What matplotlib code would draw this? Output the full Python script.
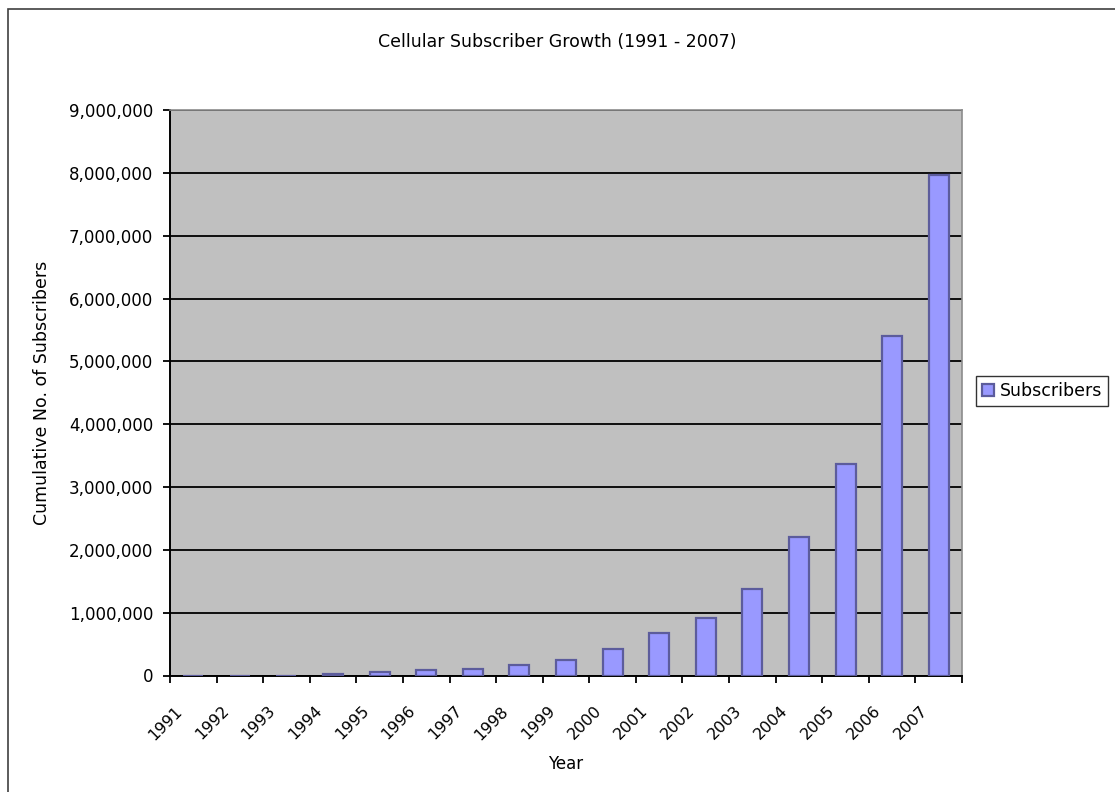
import numpy as np
import matplotlib
matplotlib.use("Agg")
import matplotlib.pyplot as plt
from matplotlib.patches import Rectangle
from matplotlib.ticker import FuncFormatter, FixedLocator

# data
years = ["1991", "1992", "1993", "1994", "1995", "1996", "1997", "1998", "1999",
         "2000", "2001", "2002", "2003", "2004", "2005", "2006", "2007"]
subscribers = [0, 0, 0, 20000, 50000, 80000, 105000, 175000, 250000,
               425000, 673000, 912000, 1380000, 2200000, 3360000, 5410000, 7960000]
y_ticks = [0, 1000000, 2000000, 3000000, 4000000, 5000000, 6000000, 7000000, 8000000, 9000000]

plt.rcParams['font.family'] = ['DejaVu Sans']

fig = plt.figure(figsize=(11.15, 7.92), dpi=100)
ax = fig.add_axes([170 / 1115, 1 - 675.5 / 792, 792 / 1115, 565.5 / 792])
ax.set_facecolor("#c0c0c0")

# outer chart border
fig.patches.append(Rectangle((8 / 1115, -0.01), 1.05, 1 - 9 / 792 + 0.01,
                             transform=fig.transFigure, fill=False,
                             edgecolor="#404040", linewidth=1.2))

x = np.arange(len(years))
ax.bar(x, subscribers, width=0.43, color="#9999ff", edgecolor="#5c5c9c",
       linewidth=1.6, zorder=3, label="Subscribers")

ax.set_xlim(-0.5, len(years) - 0.5)
ax.set_ylim(0, 9000000)
ax.set_yticks(y_ticks)
ax.yaxis.set_major_formatter(FuncFormatter(lambda v, p: f"{int(v):,}"))
ax.grid(axis="y", color="black", linewidth=1.3, zorder=1)
ax.set_axisbelow(True)

# category boundary ticks, labels placed between them
ax.xaxis.set_major_locator(FixedLocator(np.arange(len(years) + 1) - 0.5))
ax.xaxis.set_major_formatter(FuncFormatter(lambda v, p: ""))
ax.xaxis.set_minor_locator(FixedLocator(x - 0.4))
ax.set_xticklabels(years, minor=True, rotation=45, ha="right",
                   rotation_mode="anchor", fontsize=11.5)
ax.tick_params(axis="x", which="minor", length=0, pad=20)
ax.tick_params(axis="x", which="major", length=5, width=1.3, direction="out")
ax.tick_params(axis="y", length=5, width=1.3, direction="out", pad=7, labelsize=12)

for side in ["top", "right"]:
    ax.spines[side].set_color("#8c8c8c")
    ax.spines[side].set_linewidth(1.2)
for side in ["left", "bottom"]:
    ax.spines[side].set_color("black")
    ax.spines[side].set_linewidth(1.4)

fig.text(0.5, 1 - 42 / 792, "Cellular Subscriber Growth (1991 - 2007)",
         ha="center", va="center", fontsize=12.5)
ax.set_xlabel("Year", fontsize=12)
ax.xaxis.set_label_coords(0.5, -0.14)
ax.set_ylabel("Cumulative No. of Subscribers", fontsize=12.5)
ax.yaxis.set_label_coords(-0.15, 0.5)

leg = ax.legend(loc="center left", bbox_to_anchor=(976 / 1115, 1 - 391 / 792),
                bbox_transform=fig.transFigure, fontsize=12.5, frameon=True,
                fancybox=False, handlelength=0.7, handleheight=0.7,
                handletextpad=0.3, borderpad=0.35, borderaxespad=0)
leg.get_frame().set_edgecolor("black")
leg.get_frame().set_linewidth(1.0)

fig.savefig("out.png", dpi=100)
